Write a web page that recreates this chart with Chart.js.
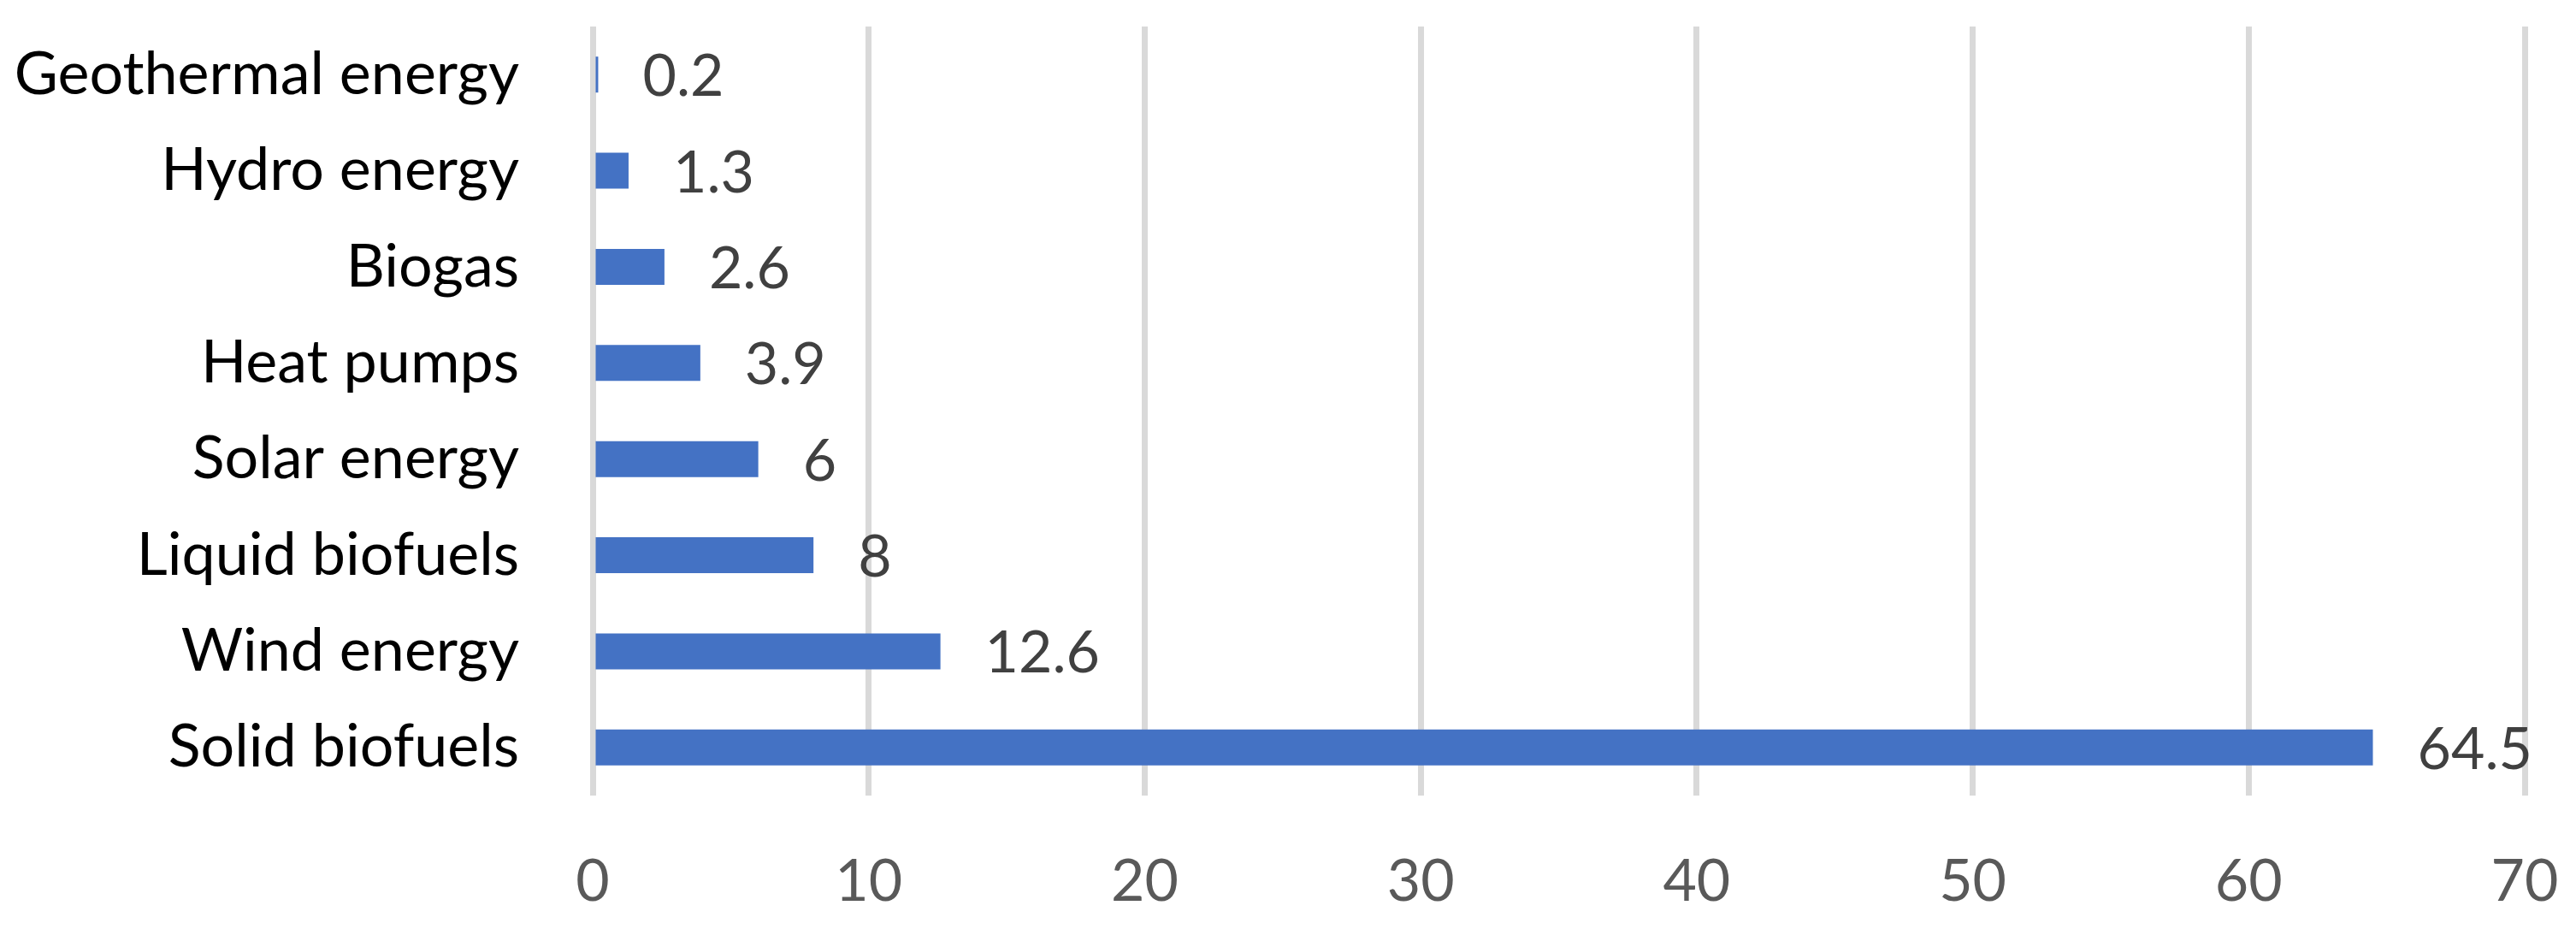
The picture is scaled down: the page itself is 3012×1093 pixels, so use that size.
<!DOCTYPE html>
<html>
<head>
<meta charset="utf-8">
<script src="https://cdn.jsdelivr.net/npm/chart.js@4"></script>
<style>
  html, body { margin: 0; padding: 0; background: #ffffff; }
  #wrap { width: 3012px; height: 1093px; position: relative; }
</style>
</head>
<body>
<div id="wrap"><canvas id="c" width="3012" height="1093"></canvas></div>
<script>
const categories = ["Geothermal energy", "Hydro energy", "Biogas", "Heat pumps", "Solar energy", "Liquid biofuels", "Wind energy", "Solid biofuels"];
const values = [0.2, 1.3, 2.6, 3.9, 6, 8, 12.6, 64.5];
const xTicks = [0, 10, 20, 30, 40, 50, 60, 70];

const FONT = "Lato, 'Open Sans', sans-serif";

const dataLabels = {
  id: 'dataLabels',
  afterDatasetsDraw(chart) {
    const ctx = chart.ctx;
    const meta = chart.getDatasetMeta(0);
    ctx.save();
    ctx.font = "68px " + FONT;
    ctx.fillStyle = "#404040";
    ctx.textAlign = "left";
    ctx.textBaseline = "middle";
    meta.data.forEach((bar, i) => {
      ctx.fillText(String(values[i]), bar.x + 52, bar.y + 3);
    });
    ctx.restore();
  }
};

new Chart(document.getElementById('c'), {
  type: 'bar',
  data: {
    labels: categories,
    datasets: [{
      data: values,
      backgroundColor: '#4472C4',
      borderWidth: 0,
      categoryPercentage: 1,
      barPercentage: 0.374
    }]
  },
  options: {
    indexAxis: 'y',
    responsive: false,
    animation: false,
    events: [],
    layout: { padding: { top: 31, right: 60, left: 0, bottom: 0 } },
    plugins: { legend: { display: false }, tooltip: { enabled: false } },
    scales: {
      x: {
        type: 'linear',
        min: 0,
        max: 70,
        afterBuildTicks(scale) { scale.ticks = xTicks.map(v => ({ value: v })); },
        afterFit(scale) {
          scale.height = 163;
          scale.paddingLeft = 0; scale.paddingRight = 0;
          scale.paddingTop = 0; scale.paddingBottom = 0;
        },
        grid: { color: '#d9d9d9', lineWidth: 7, drawTicks: false },
        border: { display: false },
        ticks: {
          color: '#595959',
          font: { family: FONT, size: 68 },
          padding: 60,
          maxRotation: 0
        }
      },
      y: {
        type: 'category',
        afterFit(scale) {
          scale.width = 693;
          scale.paddingLeft = 0; scale.paddingRight = 0;
          scale.paddingTop = 0; scale.paddingBottom = 0;
        },
        grid: { display: false, drawTicks: false },
        border: { display: false },
        ticks: {
          color: '#000000',
          font: { family: FONT, size: 70 },
          padding: 86,
          autoSkip: false
        }
      }
    }
  },
  plugins: [dataLabels]
});
</script>
</body>
</html>
